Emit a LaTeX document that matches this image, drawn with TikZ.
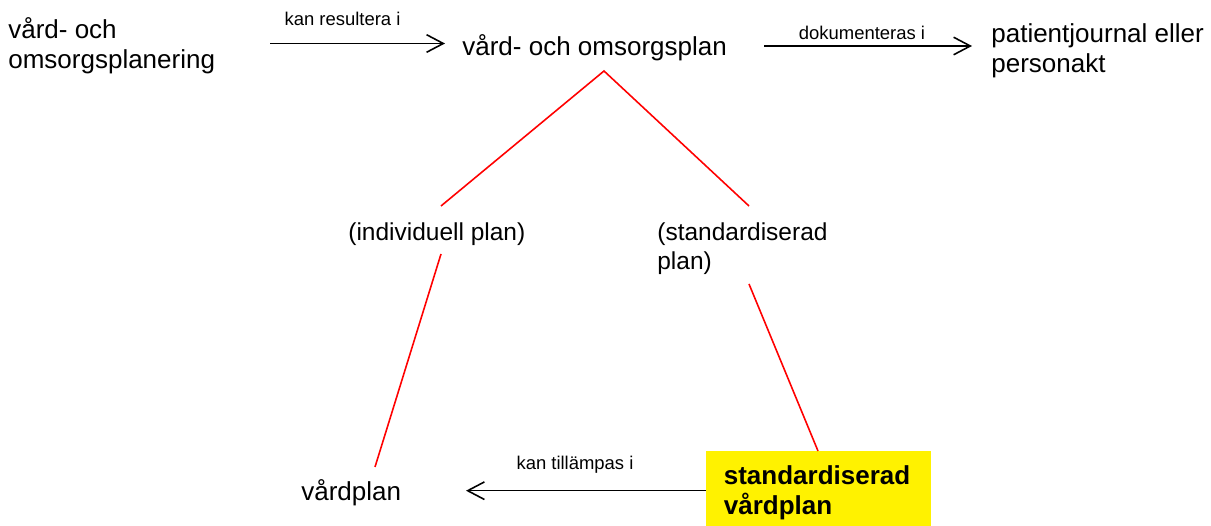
\documentclass[tikz,border=0pt]{standalone}
\usepackage{fontspec}
\setmainfont{Liberation Sans}
\usetikzlibrary{arrows.meta}
\begin{document}
\begin{tikzpicture}[x=0.02cm,y=-0.02cm,
  txt/.style={inner sep=0pt, align=left, font=\fontsize{14.8}{16.9}\selectfont},
  midtxt/.style={inner sep=0pt, align=left, font=\fontsize{13.94}{16.6}\selectfont},
  lbl/.style={inner sep=0pt, font=\fontsize{10.5}{12}\selectfont},
  arr/.style={-{Straight Barb[length=9.5pt,width=10pt]}, line width=0.9pt},
  redline/.style={red, line width=0.9pt},
  hilite/.style={fill=yellow, inner xsep=9.96pt, inner ysep=0pt, minimum height=47.2pt,
    text width=108.1pt, align=left, font=\bfseries\fontsize{14.8}{17}\selectfont}
]
\useasboundingbox (0,0) rectangle (1211,526);

% main nodes
\node[txt, anchor=north west] (plan) at (8,17.5) {vård- och\\omsorgsplanering};
\node[txt, anchor=base west] (vop) at (462,56) {vård- och omsorgsplan};
\node[txt, anchor=north west] (journal) at (991,23.5) {patientjournal eller\\personakt};
\node[midtxt, anchor=base west] (indiv) at (348,241) {(individuell plan)};
\node[midtxt, anchor=north west] (stdplan) at (657,222) {(standardiserad\\plan)};
\node[txt, anchor=base west] (vardplan) at (301,501) {vårdplan};
\node[hilite, anchor=north west] (ybox) at (706,451) {standardiserad\\vårdplan};

% arrow end points
\coordinate (a1s) at (270,43.5);
\coordinate (a1e) at (445,43.5);
\coordinate (a2s) at (764,46);
\coordinate (a2e) at (972,46);
\coordinate (a3e) at (466,490.7);

\draw[arr] (a1s) -- (a1e);
\draw[arr] (a2s) -- (a2e);
\draw[arr] (ybox.west |- a3e) -- (a3e);

% labels
\node[lbl, anchor=base] (l1) at (342.5,26) {kan resultera i};
\node[lbl, anchor=base] (l2) at (862,39.3) {dokumenteras i};
\node[lbl, anchor=base] (l3) at (575,469.3) {kan tillämpas i};

% red lines
\coordinate (r0) at (604,71);
\coordinate (r1) at (441,206);
\coordinate (r2) at (749,206);
\coordinate (r3) at (441,254);
\coordinate (r4) at (375,467);
\coordinate (r5) at (749,284);
\coordinate (r6) at (818,451);
\draw[redline] (r1) -- (r0) -- (r2);
\draw[redline] (r3) -- (r4);
\draw[redline] (r5) -- (r6);
\end{tikzpicture}
\end{document}
